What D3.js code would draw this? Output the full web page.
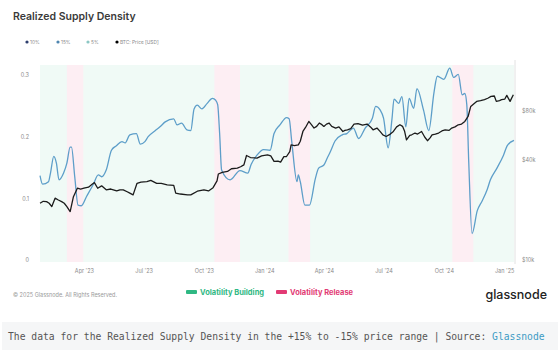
<!DOCTYPE html>
<html><head><meta charset="utf-8">
<script src="https://cdn.jsdelivr.net/npm/d3@7"></script>
<style>
html,body{margin:0;padding:0;background:#fff;}
svg{display:block;}
</style></head>
<body>
<svg id="chart" width="560" height="350"></svg>
<script>
// ---- data ----
const xTickLabels = ["Apr '23","Jul '23","Oct '23","Jan '24","Apr '24","Jul '24","Oct '24","Jan '25"];
const xTickDates = ["2023-04-01","2023-07-01","2023-10-01","2024-01-01","2024-04-01","2024-07-01","2024-10-01","2025-01-01"];
const leftTicks = [0, 0.1, 0.2, 0.3];
const leftTickLabels = ["0", "0.1", "0.2", "0.3"];
const rightTicks = [10000, 40000, 80000];
const rightTickLabels = ["$10k", "$40k", "$80k"];
const legendTop = ["10%", "15%", "5%", "BTC: Price [USD]"];
const legendBottom = ["Volatility Building", "Volatility Release"];
const releaseStart = ["2023-03-06", "2023-10-17", "2024-02-07", "2024-10-14"];
const releaseEnd   = ["2023-03-31", "2023-11-25", "2024-03-11", "2024-11-15"];

const densityDates = ["2023-01-24","2023-01-28","2023-02-06","2023-02-09","2023-02-14","2023-02-18","2023-02-22","2023-03-01","2023-03-06","2023-03-11","2023-03-13","2023-03-18","2023-03-23","2023-03-28","2023-04-05","2023-04-15","2023-04-23","2023-04-28","2023-05-05","2023-05-13","2023-05-20","2023-05-29","2023-06-03","2023-06-10","2023-06-20","2023-06-26","2023-07-03","2023-07-08","2023-07-19","2023-07-26","2023-08-03","2023-08-16","2023-08-21","2023-08-28","2023-09-05","2023-09-11","2023-09-16","2023-09-21","2023-09-28","2023-10-06","2023-10-14","2023-10-19","2023-10-22","2023-10-25","2023-10-28","2023-11-10","2023-11-25","2023-12-07","2023-12-12","2023-12-21","2023-12-31","2024-01-10","2024-01-16","2024-01-25","2024-02-04","2024-02-08","2024-02-12","2024-02-20","2024-02-22","2024-02-25","2024-03-03","2024-03-10","2024-03-19","2024-03-24","2024-04-01","2024-04-06","2024-04-11","2024-04-18","2024-04-29","2024-05-06","2024-05-16","2024-05-24","2024-06-03","2024-06-14","2024-06-19","2024-06-26","2024-07-01","2024-07-08","2024-07-14","2024-07-17","2024-07-24","2024-07-29","2024-08-04","2024-08-09","2024-08-16","2024-08-21","2024-08-31","2024-09-08","2024-09-16","2024-09-21","2024-10-01","2024-10-10","2024-10-16","2024-10-23","2024-10-29","2024-11-02","2024-11-05","2024-11-08","2024-11-13","2024-11-21","2024-11-28","2024-12-06","2024-12-11","2024-12-21","2024-12-31","2025-01-06","2025-01-16"];
const density15 = [0.137,0.123,0.127,0.141,0.168,0.157,0.130,0.141,0.157,0.183,0.183,0.135,0.089,0.088,0.103,0.122,0.138,0.135,0.146,0.178,0.185,0.192,0.190,0.203,0.205,0.188,0.192,0.200,0.210,0.216,0.224,0.229,0.219,0.222,0.211,0.210,0.245,0.251,0.245,0.254,0.262,0.259,0.252,0.205,0.146,0.130,0.145,0.141,0.155,0.170,0.179,0.178,0.205,0.219,0.231,0.229,0.192,0.127,0.138,0.127,0.089,0.089,0.132,0.149,0.154,0.165,0.176,0.193,0.203,0.205,0.214,0.197,0.214,0.230,0.249,0.243,0.230,0.182,0.230,0.261,0.254,0.265,0.216,0.262,0.246,0.278,0.243,0.210,0.272,0.298,0.293,0.311,0.296,0.301,0.268,0.270,0.252,0.158,0.043,0.080,0.095,0.114,0.130,0.149,0.170,0.186,0.194];

const priceDates = ["2023-01-24","2023-01-29","2023-02-03","2023-02-07","2023-02-11","2023-02-16","2023-02-21","2023-02-26","2023-03-02","2023-03-06","2023-03-11","2023-03-16","2023-03-22","2023-03-27","2023-04-01","2023-04-08","2023-04-13","2023-04-17","2023-04-22","2023-04-28","2023-05-05","2023-05-12","2023-05-21","2023-05-26","2023-05-31","2023-06-06","2023-06-10","2023-06-15","2023-06-21","2023-06-27","2023-07-06","2023-07-12","2023-07-21","2023-07-28","2023-08-06","2023-08-16","2023-08-19","2023-08-26","2023-09-06","2023-09-11","2023-09-21","2023-10-01","2023-10-08","2023-10-15","2023-10-21","2023-10-23","2023-10-29","2023-11-06","2023-11-12","2023-11-21","2023-11-26","2023-12-01","2023-12-05","2023-12-11","2023-12-21","2023-12-28","2024-01-06","2024-01-11","2024-01-16","2024-01-22","2024-01-26","2024-01-31","2024-02-04","2024-02-09","2024-02-11","2024-02-16","2024-02-22","2024-02-25","2024-02-29","2024-03-04","2024-03-09","2024-03-13","2024-03-17","2024-03-21","2024-03-25","2024-03-29","2024-04-01","2024-04-05","2024-04-09","2024-04-13","2024-04-19","2024-04-24","2024-04-30","2024-05-03","2024-05-07","2024-05-12","2024-05-17","2024-05-23","2024-05-30","2024-06-06","2024-06-11","2024-06-15","2024-06-21","2024-06-26","2024-06-30","2024-07-05","2024-07-10","2024-07-16","2024-07-21","2024-07-26","2024-07-30","2024-08-02","2024-08-05","2024-08-10","2024-08-13","2024-08-18","2024-08-22","2024-08-28","2024-09-02","2024-09-06","2024-09-10","2024-09-13","2024-09-18","2024-09-23","2024-09-28","2024-10-03","2024-10-09","2024-10-13","2024-10-18","2024-10-23","2024-10-28","2024-11-02","2024-11-07","2024-11-11","2024-11-15","2024-11-20","2024-11-26","2024-12-02","2024-12-07","2024-12-12","2024-12-17","2024-12-20","2024-12-25","2024-12-28","2025-01-02","2025-01-05","2025-01-10","2025-01-15"];
const btcPrice = [22000,22600,22500,22000,21000,23600,23000,22500,22000,21000,19600,24100,27100,26800,27100,27500,28500,29300,27100,28000,26500,26800,26100,26500,26500,25800,25300,24700,29000,29500,29700,30200,29000,29000,28400,28200,25300,25000,24700,24700,26000,26500,26100,27300,30000,33000,33800,34200,35500,35800,36500,37500,42700,41500,41200,42500,43100,42500,39300,39500,38900,42000,42100,45100,49500,49000,49500,52000,59600,63000,68500,65500,62500,64000,67000,65500,63900,66000,67000,64000,62500,63500,59600,60500,61000,62000,66000,66500,65000,66000,63500,61000,62500,59500,56900,55600,57000,59600,63500,65400,64000,60000,53100,56500,56900,58300,57500,59600,55000,52400,54500,56900,57500,58300,60000,61000,60500,62500,63500,65400,66000,68500,73400,84400,87000,90500,91500,92700,94500,97000,97500,90500,91500,92700,93500,98400,90500,99300];

// ---- layout ----
const svg = d3.select("#chart");
const parse = d3.utcParse("%Y-%m-%d");
const plotL = 40, plotR = 514, plotT = 65, plotB = 262;

const x = d3.scaleUtc().domain([parse("2023-01-24"), parse("2025-01-16")]).range([plotL, plotR]);
const yL = d3.scaleLinear().domain([0, 0.3]).range([260, 75]);
const yR = d3.scaleLog().domain([10000, 150000]).range([260, 65]);

const font = "Inter, 'Noto Sans', sans-serif";

// title
svg.append("text").attr("x", 13).attr("y", 20).text("Realized Supply Density")
  .attr("font-family", font).attr("font-size", 10.5).attr("font-weight", 600).attr("fill", "#3a3a3a");

// top legend
const legColors = ["#2e3f6e", "#4f86b0", "#8cc7c4", "#000000"];
const legX = [27, 58, 88, 117];
legendTop.forEach((t, i) => {
  svg.append("circle").attr("cx", legX[i]).attr("cy", 42).attr("r", 1.6).attr("fill", legColors[i]);
  svg.append("text").attr("x", legX[i] + 3).attr("y", 44).text(t)
    .attr("font-family", font).attr("font-size", 4.8).attr("fill", "#8a8a8a");
});

// background bands
svg.append("rect").attr("x", plotL).attr("y", plotT).attr("width", plotR - plotL).attr("height", plotB - plotT)
  .attr("fill", "#f0faf6");
releaseStart.forEach((s, i) => {
  const a = x(parse(s)), b = x(parse(releaseEnd[i]));
  svg.append("rect").attr("x", a).attr("y", plotT).attr("width", b - a).attr("height", plotB - plotT)
    .attr("fill", "#fdeef3");
});

// right axis line
svg.append("line").attr("x1", plotR + 1).attr("x2", plotR + 1).attr("y1", plotT - 5).attr("y2", plotB + 2)
  .attr("stroke", "#e2e2e2").attr("stroke-width", 1);

// left axis
const gL = svg.append("g").attr("transform", `translate(${plotL - 8},0)`)
  .call(d3.axisLeft(yL).tickValues(leftTicks).tickFormat((d, i) => leftTickLabels[i]).tickSize(0));
gL.select(".domain").remove();
gL.selectAll("text").attr("font-family", font).attr("font-size", 5.5).attr("fill", "#8a8a8a");

// right axis
const gR = svg.append("g").attr("transform", `translate(${plotR + 5},0)`)
  .call(d3.axisRight(yR).tickValues(rightTicks).tickFormat((d, i) => rightTickLabels[i]).tickSize(0));
gR.select(".domain").remove();
gR.selectAll("text").attr("font-family", font).attr("font-size", 5.5).attr("fill", "#8a8a8a");

// x axis
const gX = svg.append("g").attr("transform", `translate(0,${plotB + 4})`)
  .call(d3.axisBottom(x).tickValues(xTickDates.map(parse)).tickFormat((d, i) => xTickLabels[i]).tickSize(0));
gX.select(".domain").remove();
gX.selectAll("text").attr("font-family", font).attr("font-size", 5.5).attr("fill", "#8a8a8a");

// density line
const dens = densityDates.map((d, i) => ({ d: parse(d), v: density15[i] }));
svg.append("path").datum(dens)
  .attr("d", d3.line().x(p => x(p.d)).y(p => yL(p.v)).curve(d3.curveMonotoneX))
  .attr("fill", "none").attr("stroke", "#5d9ec9").attr("stroke-width", 1.3);

// price line
const price = priceDates.map((d, i) => ({ d: parse(d), v: btcPrice[i] }));
svg.append("path").datum(price)
  .attr("d", d3.line().x(p => x(p.d)).y(p => yR(p.v)))
  .attr("fill", "none").attr("stroke", "#1b1b1b").attr("stroke-width", 1.3).attr("stroke-linejoin", "round");

// footer
svg.append("text").attr("x", 13).attr("y", 297).text("© 2025 Glassnode. All Rights Reserved.")
  .attr("font-family", font).attr("font-size", 5.5).attr("fill", "#9a9a9a");

const bColors = ["#2fb883", "#e23a74"];
const bX = [186, 276];
legendBottom.forEach((t, i) => {
  svg.append("rect").attr("x", bX[i]).attr("y", 290).attr("width", 11).attr("height", 4).attr("rx", 1)
    .attr("fill", bColors[i]);
  svg.append("text").attr("x", bX[i] + 14).attr("y", 295).text(t)
    .attr("font-family", font).attr("font-size", 7.5).attr("font-weight", 700).attr("fill", bColors[i]);
});

svg.append("text").attr("x", 547).attr("y", 299).attr("text-anchor", "end").text("glassnode")
  .attr("font-family", font).attr("font-size", 12.5).attr("font-weight", 500).attr("fill", "#222");

// caption box
svg.append("rect").attr("x", 2).attr("y", 322).attr("width", 556).attr("height", 28).attr("fill", "#f5f6f7");
const cap = svg.append("text").attr("x", 8).attr("y", 340)
  .attr("font-family", "'DejaVu Sans Mono', 'Liberation Mono', monospace").attr("font-size", 9.7).attr("fill", "#555");
cap.append("tspan").text("The data for the Realized Supply Density in the +15% to -15% price range | Source: ");
cap.append("tspan").attr("fill", "#3c9bc4").text("Glassnode");
</script>
</body></html>
